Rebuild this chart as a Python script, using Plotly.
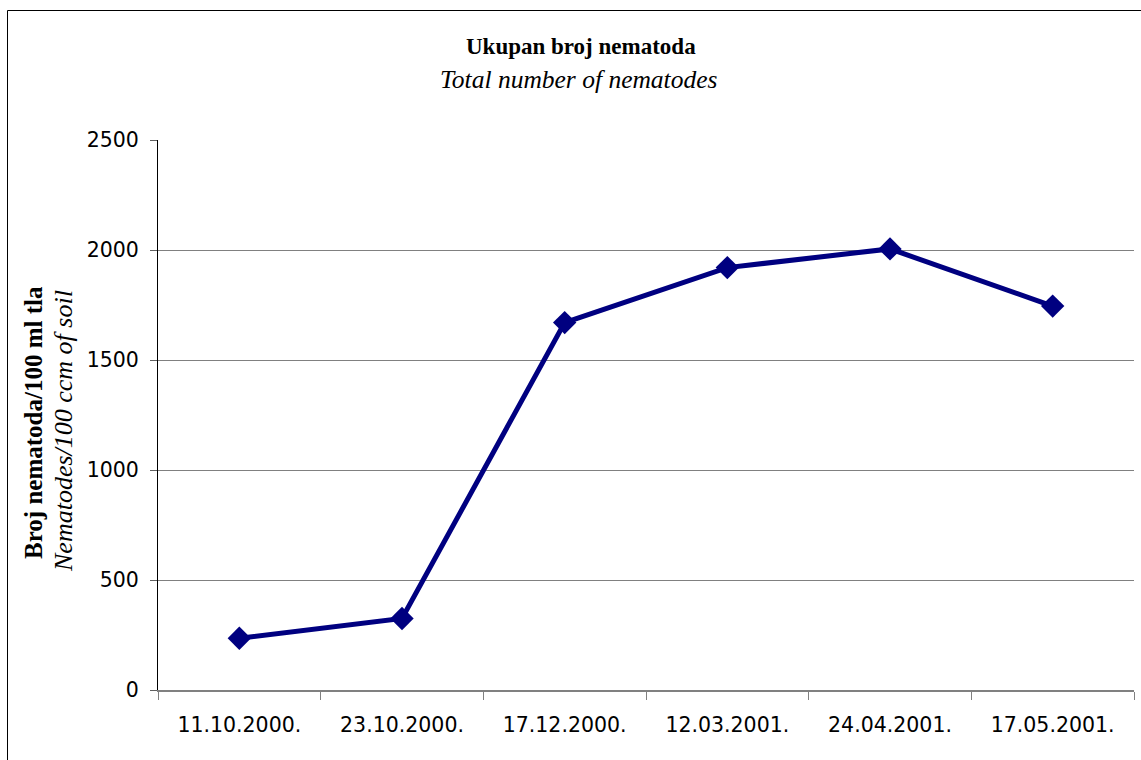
import plotly.graph_objects as go

dates = ["11.10.2000.", "23.10.2000.", "17.12.2000.", "12.03.2001.", "24.04.2001.", "17.05.2001."]
counts = [235, 325, 1670, 1920, 2005, 1745]
y_ticks = [0, 500, 1000, 1500, 2000, 2500]

title_main = "Ukupan broj nematoda"
title_sub = "Total number of nematodes"
ytitle_main = "Broj nematoda/100 ml tla"
ytitle_sub = "Nematodes/100 ccm of soil"

W, H = 1141, 760
L, R, T, B = 158, 7, 140, 70
pw = W - L - R
ph = H - T - B

def px(x):
    return (x - L) / pw

def py(y):
    return (H - B - y) / ph

serif = "Liberation Serif, Times New Roman, serif"
sans = "DejaVu Sans, Arial, sans-serif"

fig = go.Figure()
fig.add_trace(go.Scatter(
    x=dates, y=counts, mode="lines+markers",
    line=dict(color="#000080", width=5),
    marker=dict(symbol="diamond", size=18, color="#000080"),
    showlegend=False,
))

fig.update_layout(
    width=W, height=H,
    margin=dict(l=L, r=R, t=T, b=B),
    paper_bgcolor="white", plot_bgcolor="white",
    font=dict(family=sans, size=20.5, color="black"),
    xaxis=dict(
        type="category", tickson="boundaries", ticks="outside", ticklen=8,
        tickcolor="#808080", showline=True, linecolor="#808080", linewidth=2,
        showgrid=False, tickfont=dict(family=sans, size=20.5), range=[-0.5, 5.5],
        ticklabelstandoff=15,
    ),
    yaxis=dict(
        range=[0, 2500], tickvals=y_ticks, ticks="outside", ticklen=7,
        tickcolor="#606060", showline=True, linecolor="black", linewidth=1,
        showgrid=True, gridcolor="#808080", gridwidth=1, zeroline=False,
        tickfont=dict(family=sans, size=20.5), ticklabelstandoff=7,
    ),
    shapes=[dict(
        type="rect", xref="paper", yref="paper",
        x0=px(7.5), x1=px(1160), y0=py(780), y1=py(10.5),
        line=dict(color="black", width=1), layer="below",
    )],
    annotations=[
        dict(text="<b>" + title_main + "</b>", xref="paper", yref="paper",
             x=px(581), y=py(46), showarrow=False, xanchor="center", yanchor="middle",
             font=dict(family=serif, size=23)),
        dict(text="<i>" + title_sub + "</i>", xref="paper", yref="paper",
             x=px(579), y=py(80), showarrow=False, xanchor="center", yanchor="middle",
             font=dict(family=serif, size=25.5)),
        dict(text="<b>" + ytitle_main + "</b>", xref="paper", yref="paper",
             x=px(33), y=py(423), showarrow=False, textangle=-90,
             xanchor="center", yanchor="middle",
             font=dict(family=serif, size=25)),
        dict(text="<i>" + ytitle_sub + "</i>", xref="paper", yref="paper",
             x=px(63), y=py(431), showarrow=False, textangle=-90,
             xanchor="center", yanchor="middle",
             font=dict(family=serif, size=26)),
    ],
)

fig.write_html("out.html", config={"displayModeBar": False},
               post_script="document.body.style.margin='0';")
